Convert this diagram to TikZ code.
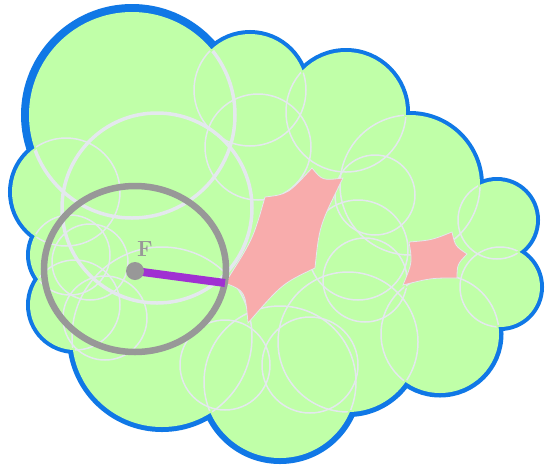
\documentclass[tikz,border=0pt]{standalone}
\usepackage{xcolor}
\usepackage{tikz}
\usetikzlibrary{calc}
\definecolor{ballgreen}{RGB}{192,255,168}
\definecolor{rimblue}{RGB}{16,120,230}
\definecolor{balledge}{RGB}{228,232,238}
\definecolor{holepink}{RGB}{248,172,172}
\definecolor{fgray}{RGB}{152,152,152}
\definecolor{radpurple}{RGB}{160,48,210}
\tikzset{
  rimline/.style={draw=rimblue, line width=#1},
  ballline/.style={draw=balledge, line width=#1},
  ballline/.default=1.5pt,
  holefill/.style={fill=holepink, draw=balledge, line width=0.8pt},
  searchring/.style={draw=fgray, line width=6.5pt},
  radiusline/.style={draw=radpurple, line width=8pt},
  centerdot/.style={circle, fill=fgray, minimum size=18pt, inner sep=0pt},
  flabel/.style={text=fgray, font=\fontsize{22}{22}\selectfont\bfseries},
}
% boundary balls: x/y/r/rim width/edge width
\newcommand{\rimballs}{132/115/103/16/3.5, 250/90/56/8/1.5, 346/112/60/8/1.5,
  410/185/70/8/1.5, 497/220/39/8/1.5, 500/287/40/8/1.5, 440/334/59/9/1.5,
  348/342/70/10/1.5, 280/382/76/12/1.5, 162/337/90/10/1.5, 75/305/45/8/1.5,
  70/255/40/8/1.5, 66/192/54/8/1.5}
% inner balls: x/y/r/edge width
\newcommand{\innerballs}{157/208/95/3.5, 258/147/53/1.5, 358/250/50/1.5,
  375/195/40/1.5, 365/280/42/1.5, 105/318/42/1.5, 90/262/38/1.5,
  225/365/45/1.5, 310/365/48/1.5}
% fillers behind the holes: x/y/r
\newcommand{\holeballs}{285/240/62, 250/292/38, 328/200/38, 300/290/40,
  435/258/40, 306/152/18, 470/252/14}

\begin{document}
\begin{tikzpicture}[x=1pt, y=-1pt]
  \path[fill=white] (0,0) rectangle (545,461);

  % Blue rim
  \foreach \cx/\cy/\r/\w/\e in \rimballs
    \draw[rimline=\w pt] (\cx,\cy) circle (\r);

  % Union of balls
  \fill[ballgreen] \foreach \cx/\cy/\r/\w/\e in \rimballs {(\cx,\cy) circle (\r)}
    \foreach \cx/\cy/\r/\e in \innerballs {(\cx,\cy) circle (\r)}
    \foreach \cx/\cy/\r in \holeballs {(\cx,\cy) circle (\r)};

  % Ball edges
  \begin{scope}
    \clip \foreach \cx/\cy/\r/\w/\e in \rimballs {(\cx,\cy) circle (\r-2)}
      \foreach \cx/\cy/\r/\e in \innerballs {(\cx,\cy) circle (\r-2)}
      \foreach \cx/\cy/\r in \holeballs {(\cx,\cy) circle (\r)};
    \foreach \cx/\cy/\r/\w/\e in \rimballs
      \draw[ballline=\e pt] (\cx,\cy) circle (\r);
    \foreach \cx/\cy/\r/\e in \innerballs
      \draw[ballline=\e pt] (\cx,\cy) circle (\r);
  \end{scope}

  % Holes
  \coordinate (ha) at (265,197);
  \coordinate (hb) at (312,168);
  \coordinate (hc) at (343,178);
  \coordinate (hd) at (315,268);
  \coordinate (he) at (248,323);
  \coordinate (hf) at (225,283);
  \coordinate (ho) at (285,236);
  \path[holefill] (ha) .. controls ($(ha)!.5!(hb)!.22!(ho)$) .. (hb)
    .. controls ($(hb)!.5!(hc)!.12!(ho)$) .. (hc)
    .. controls ($(hc)!.5!(hd)!.22!(ho)$) .. (hd)
    .. controls ($(hd)!.5!(he)!.2!(ho)$) .. (he)
    .. controls ($(he)!.5!(hf)!.18!(ho)$) .. (hf)
    .. controls ($(hf)!.5!(ha)!.2!(ho)$) .. (ha) -- cycle;

  \coordinate (ka) at (409,242);
  \coordinate (kb) at (452,232);
  \coordinate (kc) at (467,254);
  \coordinate (kd) at (457,278);
  \coordinate (ke) at (403,285);
  \coordinate (ko) at (438,258);
  \path[holefill] (ka) .. controls ($(ka)!.5!(kb)!.15!(ko)$) .. (kb)
    .. controls ($(kb)!.5!(kc)!.2!(ko)$) .. (kc)
    .. controls ($(kc)!.5!(kd)!.2!(ko)$) .. (kd)
    .. controls ($(kd)!.5!(ke)!.15!(ko)$) .. (ke)
    .. controls ($(ke)!.5!(ka)!.2!(ko)$) .. (ka) -- cycle;

  % Search ring F
  \draw[searchring] (135,269) ellipse [x radius=91, y radius=83];
  \coordinate (fcen) at (135,271);
  \coordinate (fedge) at (225,283);
  \draw[radiusline] (fcen) -- (fedge);
  \node[centerdot] (fdot) at (fcen) {};
  \node[flabel] (flab) at (145,249) {F};
\end{tikzpicture}
\end{document}
